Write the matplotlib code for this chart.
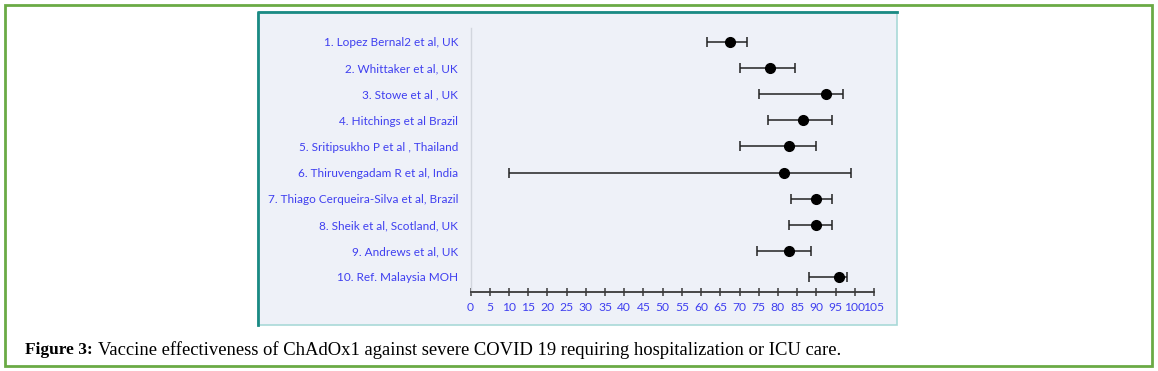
import numpy as np
import matplotlib
matplotlib.use("Agg")
import matplotlib.pyplot as plt
from matplotlib.patches import Rectangle

# study labels, top to bottom
studies = [
    "1. Lopez Bernal2 et al, UK",
    "2. Whittaker et al, UK",
    "3. Stowe et al , UK",
    "4. Hitchings et al Brazil",
    "5. Sritipsukho P et al , Thailand",
    "6. Thiruvengadam R et al, India",
    "7. Thiago Cerqueira-Silva et al, Brazil",
    "8. Sheik et al, Scotland, UK",
    "9. Andrews et al, UK",
    "10. Ref. Malaysia MOH",
]
# vaccine effectiveness (%) with lower / upper CI
ve = [67.5, 78.0, 92.5, 86.5, 83.0, 81.5, 90.0, 90.0, 83.0, 96.0]
ci_low = [61.5, 70.0, 75.0, 77.5, 70.0, 10.0, 83.5, 83.0, 74.5, 88.0]
ci_high = [72.0, 84.5, 97.0, 94.0, 90.0, 99.0, 94.0, 94.0, 88.5, 98.0]
xticks = list(range(0, 106, 5))

W, H = 1158, 371
fig = plt.figure(figsize=(W / 100, H / 100), dpi=100)

# outer green frame
fig.patches.append(Rectangle((5 / W, 5 / H), 1147 / W, 361 / H, transform=fig.transFigure,
                             fill=False, edgecolor="#6aaa45", linewidth=2, zorder=-2))
# chart panel
px0, py0, px1, py1 = 258, 12, 897, 325
fig.patches.append(Rectangle((px0 / W, 1 - py1 / H), (px1 - px0) / W, (py1 - py0) / H,
                             transform=fig.transFigure, facecolor="#eef1f8",
                             edgecolor="#a9d9d8", linewidth=1.2, zorder=-2))
fig.lines.append(plt.Line2D([px0 / W, px0 / W, px1 / W], [1 - py1 / H, 1 - py0 / H, 1 - py0 / H],
                            transform=fig.transFigure, color="#1a8a84", linewidth=2, zorder=-1))

ax_l, ax_r, ax_t, ax_b = 470.5, 874, 28, 292
ax = fig.add_axes([ax_l / W, 1 - ax_b / H, (ax_r - ax_l) / W, (ax_b - ax_t) / H])
ax.set_facecolor("none")
ax.set_zorder(5)

rows = np.arange(1, len(studies) + 1)
err = [np.array(ve) - np.array(ci_low), np.array(ci_high) - np.array(ve)]
ax.errorbar(ve, rows, xerr=err, fmt="o", color="black", ecolor="#222222",
            elinewidth=1.1, capsize=3.5, capthick=1.1, markersize=7)

ax.set_xlim(0, 105)
ax.set_ylim(10.575, 0.464)
ax.set_xticks(xticks)
ax.set_xticklabels([str(t) for t in xticks])
ax.set_yticks(rows)
ax.set_yticklabels(studies)

for s in ["top", "right"]:
    ax.spines[s].set_visible(False)
ax.spines["left"].set_color("#d2d6de")
ax.spines["left"].set_linewidth(1)
ax.spines["bottom"].set_color("#3a3a3a")
ax.spines["bottom"].set_linewidth(1.3)

ax.tick_params(axis="y", length=0, pad=9, labelsize=8.5, labelcolor="#3f3ff0")
ax.tick_params(axis="x", direction="inout", length=6, width=1.1, color="#3a3a3a",
               pad=4.5, labelsize=8.7, labelcolor="#3f3ff0")
for lbl in ax.get_xticklabels() + ax.get_yticklabels():
    lbl.set_family("Lato")

fig.text(25 / W, 1 - 350 / H, "Figure 3:", family="Liberation Serif", weight="bold",
         fontsize=12.5, va="center", ha="left")
fig.text(98 / W, 1 - 350 / H,
         "Vaccine effectiveness of ChAdOx1 against severe COVID 19 requiring hospitalization or ICU care.",
         family="Liberation Serif", fontsize=13.4, va="center", ha="left")

fig.savefig("out.png", dpi=100)
